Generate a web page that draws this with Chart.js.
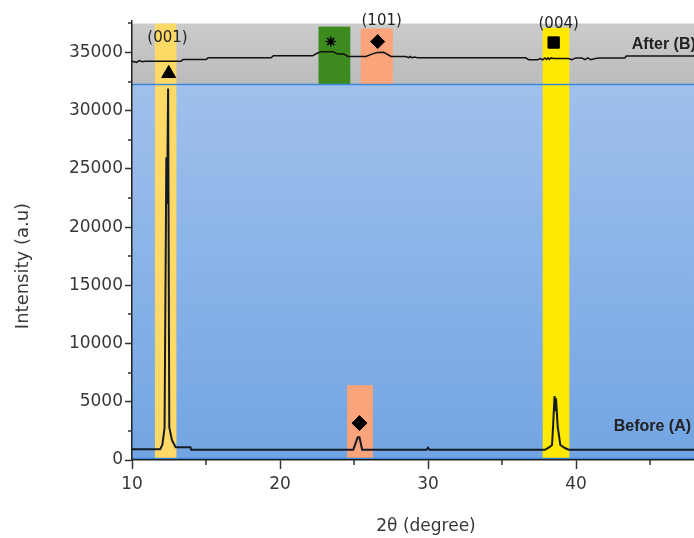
<!DOCTYPE html>
<html lang="en">
  <head>
    <meta charset="UTF-8" />
    <title>XRD Before / After</title>
    <script src="https://cdn.jsdelivr.net/npm/chart.js"></script>
    <style>
      html, body { margin: 0; padding: 0; overflow: hidden; background: #fff; }
      #wrap { position: absolute; left: 0; top: 0; width: 760px; height: 538px; }
    </style>
  </head>
  <body>
    <div id="wrap"><canvas id="chart"></canvas></div>

    <script>
      // Before (A) pattern: 2θ and intensity
      const beforeTheta = [10, 11.9, 12.05, 12.2, 12.32, 12.37, 12.44, 12.52, 12.7, 12.95,
        13.95, 14.0, 24.95, 25.25, 25.37, 25.55, 29.9, 30.0, 30.1,
        37.9, 38.2, 38.38, 38.45, 38.55, 38.6, 38.65, 38.76, 38.94, 39.25, 39.5, 50];
      const beforeI = [930, 930, 1300, 2750, 26000, 22000, 31900, 2800, 1700, 1100,
        1090, 880, 880, 1950, 1950, 880, 880, 1050, 880,
        880, 1100, 1290, 2850, 5500, 4200, 5300, 2900, 1290, 1030, 880, 880];

      // After (B) pattern
      const afterTheta = [10, 10.3, 10.5, 10.7, 10.9, 13.3, 13.45, 15.0, 15.15, 19.4, 19.55,
        22.2, 22.5, 22.8, 23.6, 23.9, 24.3, 24.6, 25.8, 26.3, 26.6, 27.0, 27.3, 27.5,
        28.5, 28.7, 28.8, 28.9, 29.1, 29.3, 36.6, 36.8, 37.4, 37.6, 37.75, 37.9, 38.0,
        38.1, 38.2, 38.3, 38.5, 39.5, 39.7, 40.0, 40.4, 40.6, 40.8, 41.0, 41.3, 41.6,
        43.3, 43.4, 50];
      const afterI = [34245, 34150, 34300, 34200, 34245, 34245, 34390, 34390, 34535, 34535, 34710,
        34710, 34930, 35050, 35050, 34860, 34860, 34650, 34650, 34900, 35000, 35020, 34800, 34650,
        34650, 34550, 34650, 34550, 34600, 34535, 34535, 34380, 34380, 34480, 34360, 34530, 34400,
        34530, 34400, 34530, 34480, 34480, 34380, 34530, 34530, 34380, 34530, 34380, 34480, 34530,
        34530, 34690, 34690];

      // peak markers
      const markerTheta = [12.48, 23.43, 26.6, 38.49, 25.37];
      const markerI = [33190, 35930, 35930, 35850, 3170];
      const markerShape = ["triangle", "star", "rectRot", "rect", "rectRot"];

      // highlighted 2θ windows: from, to, lower and upper intensity
      const bandFrom = [11.55, 22.6, 25.45, 24.53, 37.75];
      const bandTo = [13.0, 24.75, 27.63, 26.28, 39.55];
      const bandLow = [0, 32250, 32250, 0, 0];
      const bandHigh = [37480, 37220, 37050, 6430, 37130];
      const bandColor = ["#ffd966", "#3d8b1f", "#fba47c", "#fba47c", "#ffe900"];

      // reflection labels
      const peakText = ["(001)", "(101)", "(004)"];
      const peakTheta = [12.4, 26.87, 38.83];
      const peakI = [36190, 37700, 37450];

      const curveText = ["After (B)", "Before (A)"];
      const curveTheta = [43.77, 42.55];
      const curveI = [35680, 2830];

      const yTicks = [0, 5000, 10000, 15000, 20000, 25000, 30000, 35000];
      const xTicks = [10, 20, 30, 40, 50];

      const grayFrom = 32250;
      const grayTo = 37480;

      const toXY = (xs, ys) => xs.map((x, i) => ({ x: x, y: ys[i] }));

      const decor = {
        id: "decor",
        beforeDraw(chart) {
          const { ctx, chartArea: a, scales } = chart;
          const x = scales.x, y = scales.y;
          ctx.save();
          // blue main area
          const yb = y.getPixelForValue(grayFrom);
          let g = ctx.createLinearGradient(0, yb, 0, a.bottom);
          g.addColorStop(0, "#a0c0ec");
          g.addColorStop(1, "#72a5e3");
          ctx.fillStyle = g;
          ctx.fillRect(a.left, yb, a.right - a.left, a.bottom - yb);
          // gray band
          const yt = y.getPixelForValue(grayTo);
          g = ctx.createLinearGradient(0, yt, 0, yb);
          g.addColorStop(0, "#cbcbcb");
          g.addColorStop(1, "#bbbbbb");
          ctx.fillStyle = g;
          ctx.fillRect(a.left, yt, a.right - a.left, yb - yt);
          // highlight windows
          bandFrom.forEach((f, i) => {
            const x0 = x.getPixelForValue(f), x1 = x.getPixelForValue(bandTo[i]);
            const y0 = y.getPixelForValue(bandHigh[i]), y1 = y.getPixelForValue(bandLow[i]);
            ctx.fillStyle = bandColor[i];
            ctx.fillRect(x0, y0, x1 - x0, y1 - y0);
          });
          // boundary lines
          ctx.strokeStyle = "#3a86da";
          ctx.lineWidth = 1.5;
          ctx.beginPath();
          ctx.moveTo(a.left, yb); ctx.lineTo(a.right, yb);
          ctx.moveTo(a.left, a.bottom - 1.5); ctx.lineTo(a.right, a.bottom - 1.5);
          ctx.stroke();
          ctx.restore();
        },
        afterDraw(chart) {
          const { ctx, chartArea: a, scales } = chart;
          const x = scales.x, y = scales.y;
          ctx.save();
          // minor ticks
          ctx.strokeStyle = "#333";
          ctx.lineWidth = 1.5;
          ctx.beginPath();
          for (let v = 2500; v <= 37500; v += 5000) {
            const py = Math.round(y.getPixelForValue(v));
            ctx.moveTo(a.left - 4, py); ctx.lineTo(a.left, py);
          }
          for (let v = 15; v < 50; v += 10) {
            const px = Math.round(x.getPixelForValue(v));
            ctx.moveTo(px, a.bottom); ctx.lineTo(px, a.bottom + 5);
          }
          ctx.stroke();

          ctx.fillStyle = "#222";
          ctx.textAlign = "center";
          ctx.textBaseline = "middle";
          ctx.font = "15px 'DejaVu Sans'";
          peakText.forEach((t, i) => {
            ctx.fillText(t, x.getPixelForValue(peakTheta[i]), y.getPixelForValue(peakI[i]));
          });
          ctx.textAlign = "left";
          ctx.font = "bold 16px 'Liberation Sans'";
          curveText.forEach((t, i) => {
            ctx.fillText(t, x.getPixelForValue(curveTheta[i]), y.getPixelForValue(curveI[i]));
          });

          // axis titles
          ctx.fillStyle = "#383838";
          ctx.font = "17px 'DejaVu Sans'";
          ctx.textAlign = "center";
          ctx.fillText("2θ (degree)", (a.left + 724) / 2 - 2, 527);
          ctx.translate(23, 266);
          ctx.rotate(-Math.PI / 2);
          ctx.font = "18px 'DejaVu Sans'";
          ctx.fillText("Intensity (a.u)", 0, 0);
          ctx.restore();
        },
      };

      const ctx = document.getElementById("chart").getContext("2d");
      new Chart(ctx, {
        type: "line",
        data: {
          datasets: [
            {
              label: "Before (A)",
              data: toXY(beforeTheta, beforeI),
              borderColor: "#151b26",
              borderWidth: 2,
              pointRadius: 0,
            },
            {
              label: "After (B)",
              data: toXY(afterTheta, afterI),
              borderColor: "#111",
              borderWidth: 1.5,
              pointRadius: 0,
            },
            {
              label: "markers",
              data: toXY(markerTheta, markerI),
              showLine: false,
              pointStyle: markerShape,
              pointRadius: [8, 5, 7, 8, 7.5],
              pointBackgroundColor: "#000",
              pointBorderColor: "#000",
              pointBorderWidth: [1, 1.5, 1, 1, 1],
            },
          ],
        },
        options: {
          responsive: true,
          maintainAspectRatio: false,
          animation: false,
          layout: { padding: { left: 0, top: 21, right: 36, bottom: 0 } },
          plugins: { legend: { display: false }, tooltip: { enabled: false } },
          scales: {
            x: {
              type: "linear",
              min: 10,
              max: 50,
              afterFit: (s) => { s.height = 78; },
              afterBuildTicks: (s) => { s.ticks = xTicks.map((v) => ({ value: v })); },
              ticks: { color: "#383838", padding: 5, font: { family: "DejaVu Sans", size: 17 } },
              grid: { drawOnChartArea: false, tickLength: 9, tickColor: "#333", tickWidth: 1.5 },
              border: { color: "#222", width: 1.5 },
            },
            y: {
              min: 0,
              max: 37700,
              afterFit: (s) => { s.width = 132; },
              afterBuildTicks: (s) => { s.ticks = yTicks.map((v) => ({ value: v })); },
              ticks: {
                color: "#383838",
                padding: 2,
                font: { family: "DejaVu Sans", size: 17 },
                callback: (v) => String(v),
              },
              grid: { drawOnChartArea: false, tickLength: 7, tickColor: "#333", tickWidth: 1.5 },
              border: { color: "#222", width: 1.5 },
            },
          },
        },
        plugins: [decor],
      });
    </script>
  </body>
</html>
